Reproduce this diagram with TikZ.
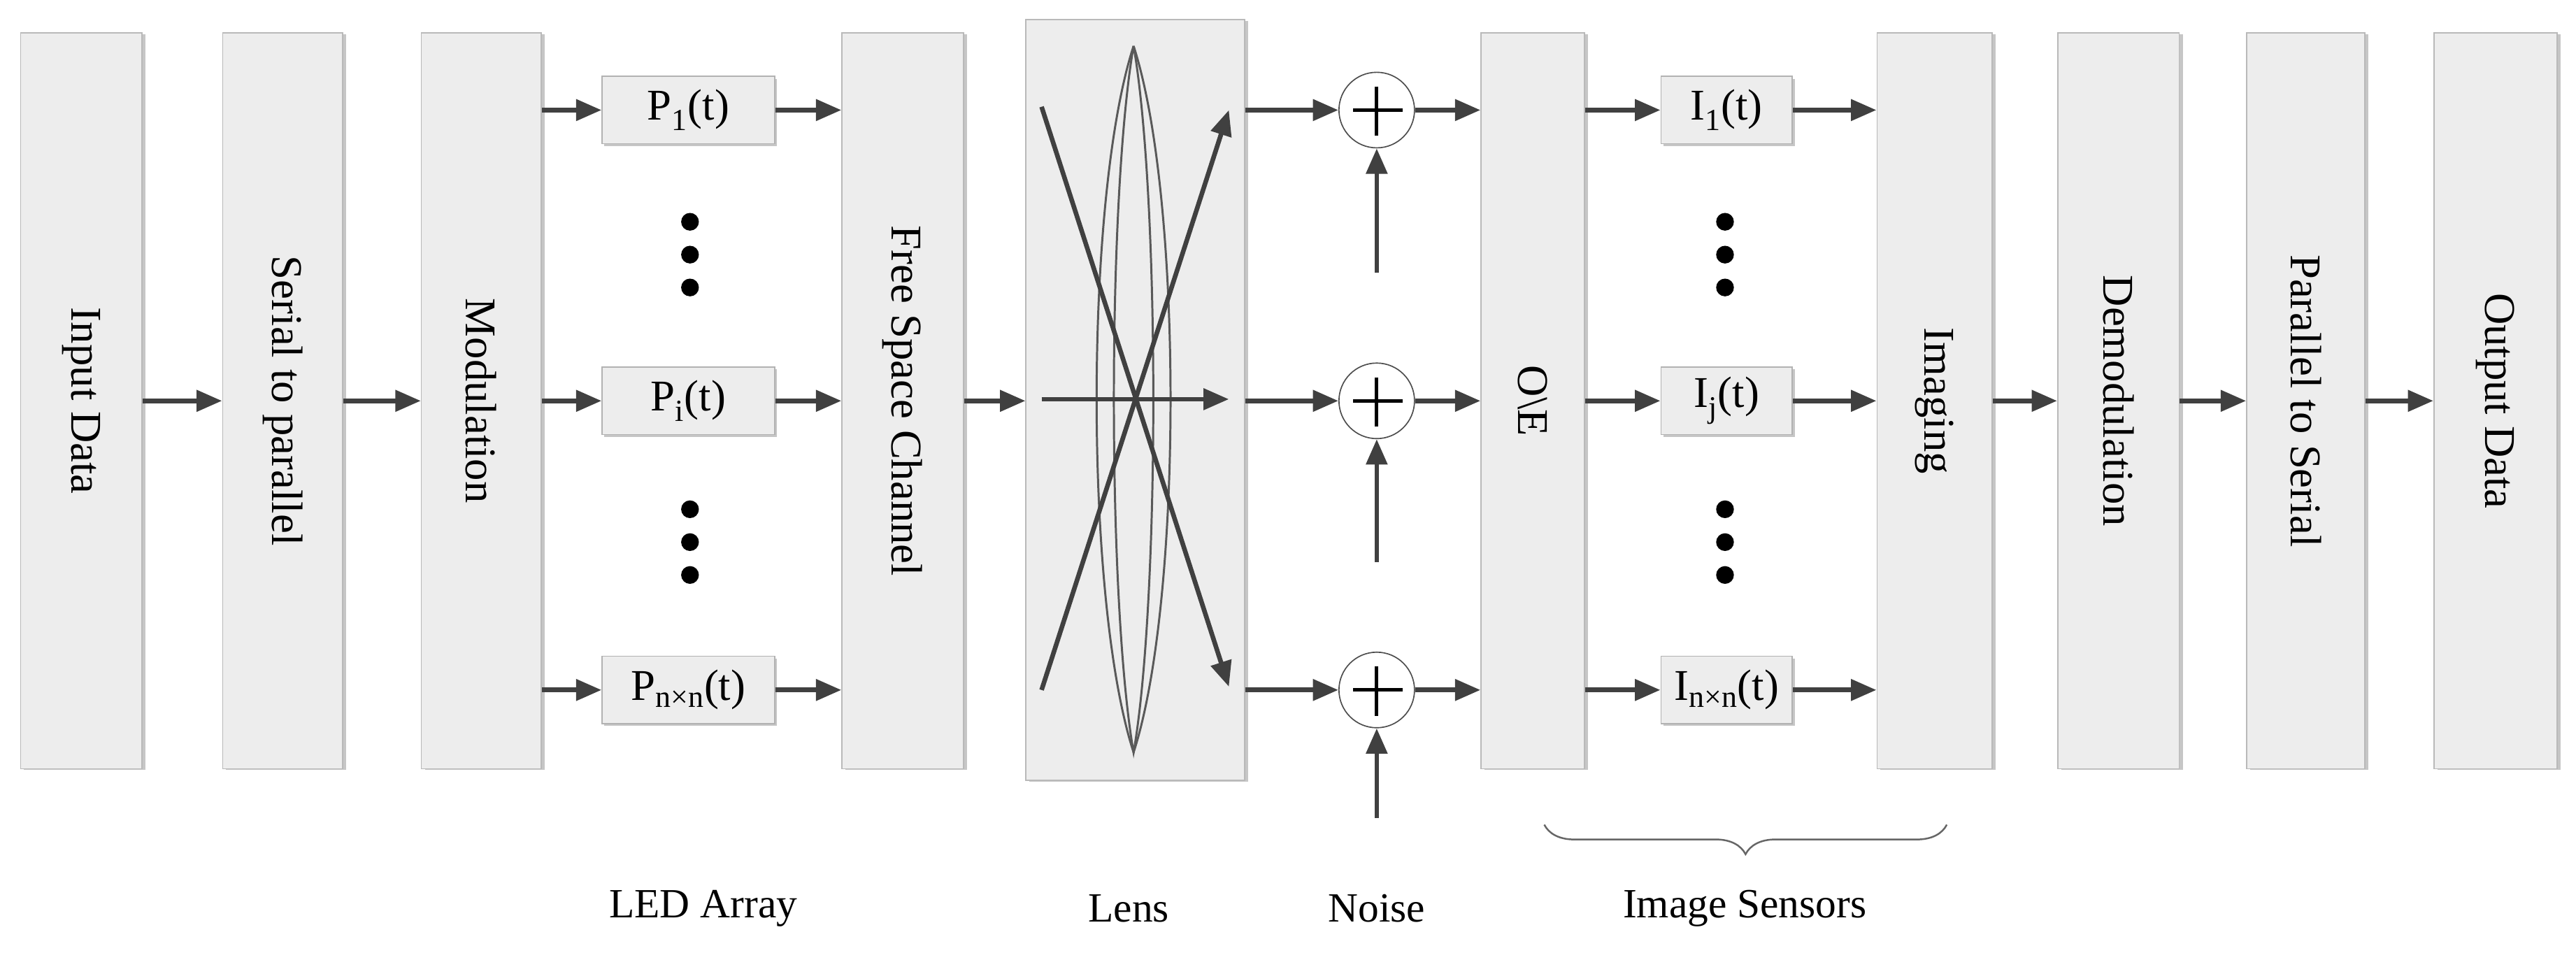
\documentclass[tikz,border=0pt]{standalone}
\usepackage{fontspec}
\setmainfont{Liberation Serif}
\usetikzlibrary{arrows.meta,decorations.pathreplacing,shadows}
\begin{document}
\begin{tikzpicture}[x=0.05cm,y=-0.05cm,
  blk/.style={draw=gray!55,fill=gray!14,line width=1pt,inner sep=0pt,
    drop shadow={shadow xshift=3pt,shadow yshift=-1pt,fill=gray!45,opacity=1}},
  small/.style={draw=gray!60,fill=gray!14,line width=1pt,inner sep=0pt,
    drop shadow={shadow xshift=2pt,shadow yshift=-2pt,fill=gray!45,opacity=1},
    font=\fontsize{38}{40}\selectfont},
  lab/.style={font=\fontsize{38}{40}\selectfont,rotate=-90},
  arr/.style={draw=black!75,line width=4pt,-{Triangle[length=22pt,width=18pt]}},
  bot/.style={font=\fontsize{36}{40}\selectfont}]
\useasboundingbox (0,0) rectangle (1568,584);
\newcommand{\bx}[5]{\node[blk,minimum width=#3*0.05cm-0.05cm,minimum height=#4*0.05cm] (#1) at (#2) {};
  \node[lab] at (#1) {#5};}
\bx{in}{49.5,244}{75}{448}{Input Data}
\bx{sp}{172,244}{74}{448}{Serial to parallel}
\bx{mod}{293,244}{74}{448}{Modulation}
\bx{fs}{549.5,244}{75}{448}{Free Space Channel}
\node[blk,minimum width=6.65cm,minimum height=23.15cm] (lens) at (691,243.5) {};
\bx{oe}{933,244}{64}{448}{O\textbackslash E}
\bx{im}{1177.5,244}{71}{448}{Imaging}
\bx{dm}{1289.5,244}{75}{448}{Demodulation}
\bx{ps}{1403.5,244}{73}{448}{Parallel to Serial}
\bx{out}{1519,244}{76}{448}{Output Data}
% small boxes
\foreach \n/\y/\t in {p1/67/{P\textsubscript{1}(t)},pi/244/{P\textsubscript{i}(t)},pn/420/{P\textsubscript{n×n}(t)}}
  \node[small,minimum width=5.25cm,minimum height=2.05cm] (\n) at (419,\y) {\t};
\foreach \n/\y/\t in {i1/67/{I\textsubscript{1}(t)},ij/244/{I\textsubscript{j}(t)},in2/420/{I\textsubscript{n×n}(t)}}
  \node[small,minimum width=4cm,minimum height=2.05cm] (\n) at (1051,\y) {\t};
% dots
\foreach \x in {420,1050} \foreach \y in {135,155,175,310,330,350}
  \fill (\x,\y) circle (0.27cm);
% adders
\foreach \n/\y in {a1/67,a2/244,a3/420}{
  \node[draw=black!70,fill=white,line width=1pt,circle,minimum size=2.3cm,inner sep=0pt] (\n) at (838,\y) {};
  \draw[line width=3pt] (\n.west)++(9,0) -- ++(30,0);
  \draw[line width=3pt] (\n.north)++(0,9) -- ++(0,30);}
\coordinate (n1) at (838,166); \coordinate (n2) at (838,342); \coordinate (n3) at (838,498);
\draw[arr] (n1) -- (a1); \draw[arr] (n2) -- (a2); \draw[arr] (n3) -- (a3);
% main arrows
\draw[arr] (in.east|-0,244) -- (sp.west|-0,244);
\draw[arr] (sp.east|-0,244) -- (mod.west|-0,244);
\foreach \n in {p1,pi,pn}{ \draw[arr] (mod.east|-\n) -- (\n); \draw[arr] (\n.east) -- (fs.west|-\n);}
\draw[arr] (fs.east|-0,244) -- (lens.west|-0,244);
\foreach \n in {a1,a2,a3}{ \draw[arr] (lens.east|-\n) -- (\n); \draw[arr] (\n) -- (oe.west|-\n);}
\foreach \n in {i1,ij,in2}{ \draw[arr] (oe.east|-\n) -- (\n); \draw[arr] (\n) -- (im.west|-\n);}
\draw[arr] (im.east|-0,244) -- (dm.west|-0,244);
\draw[arr] (dm.east|-0,244) -- (ps.west|-0,244);
\draw[arr] (ps.east|-0,244) -- (out.west|-0,244);
% lens internals
\draw[gray!70!black,line width=1.8pt] (690,28) .. controls (660,120) and (660,366) .. (690,458)
  .. controls (720,366) and (720,120) .. (690,28);
\draw[gray!70!black,line width=1.8pt] (690,28) .. controls (674,120) and (674,366) .. (690,458)
  .. controls (706,366) and (706,120) .. (690,28);
\coordinate (l1) at (634,420); \coordinate (l2) at (748,67);
\coordinate (l3) at (634,65); \coordinate (l4) at (748,418);
\coordinate (l5) at (634,243); \coordinate (l6) at (748,243);
\draw[arr] (l1) -- (l2); \draw[arr] (l3) -- (l4); \draw[arr] (l5) -- (l6);
% brace
\draw[gray!80!black,line width=1.5pt,decorate,decoration={brace,mirror,amplitude=0.9cm}] (940,502) -- (1185,502);
\node[bot] at (428,553) {LED Array};
\node[bot] at (687,553) {Lens};
\node[bot] at (838,553) {Noise};
\node[bot] at (1062,553) {Image Sensors};
\end{tikzpicture}
\end{document}
